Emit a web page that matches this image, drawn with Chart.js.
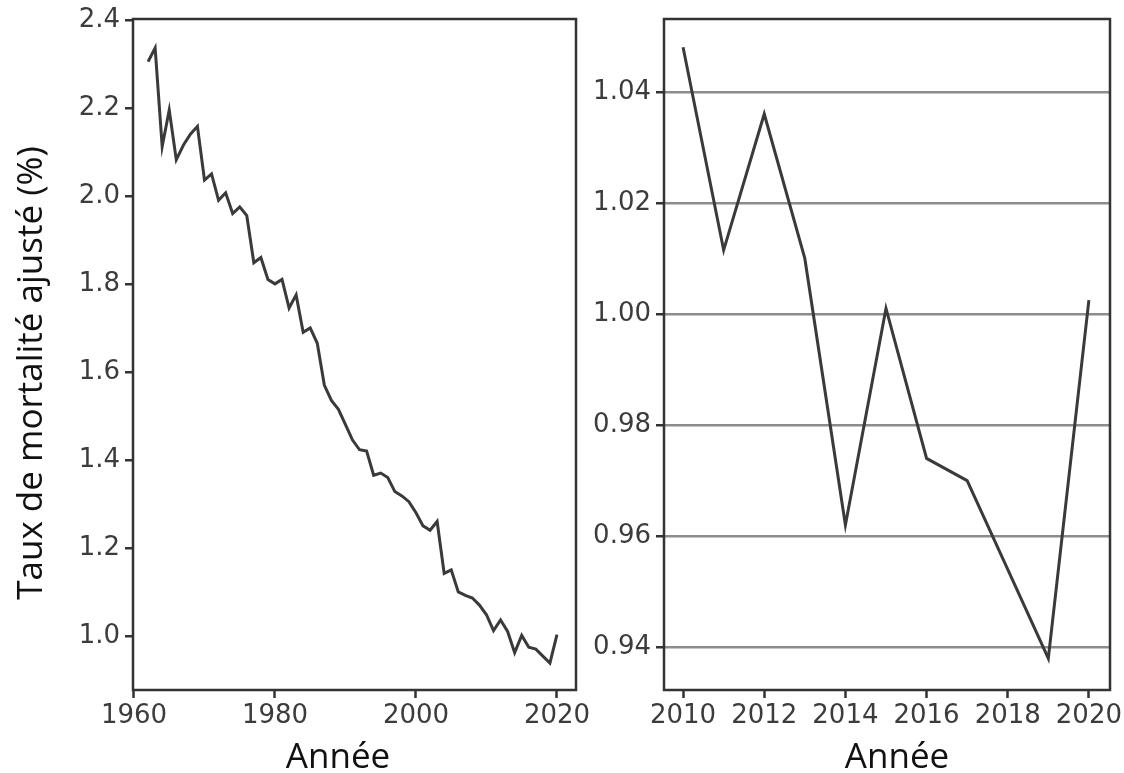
<!DOCTYPE html>
<html lang="fr">
<head>
<meta charset="utf-8">
<title>Taux de mortalité ajusté</title>
<script src="https://cdn.jsdelivr.net/npm/chart.js@4/dist/chart.umd.min.js"></script>
<style>
  html, body { margin: 0; padding: 0; background: #fff; }
  body { width: 1124px; height: 773px; position: relative; overflow: hidden; }
  .panel { position: absolute; top: 0; height: 773px; }
  #left  { left: 0;     width: 600px; }
  #right { left: 560px; width: 564px; }
</style>
</head>
<body>
<div class="panel" id="left"><canvas id="chartAll"></canvas></div>
<div class="panel" id="right"><canvas id="chartRecent"></canvas></div>

<script>
'use strict';

// ---- data ----
const yearsAll = [
  1962, 1963, 1964, 1965, 1966, 1967, 1968, 1969, 1970, 1971,
  1972, 1973, 1974, 1975, 1976, 1977, 1978, 1979, 1980, 1981,
  1982, 1983, 1984, 1985, 1986, 1987, 1988, 1989, 1990, 1991,
  1992, 1993, 1994, 1995, 1996, 1997, 1998, 1999, 2000, 2001,
  2002, 2003, 2004, 2005, 2006, 2007, 2008, 2009, 2010, 2011,
  2012, 2013, 2014, 2015, 2016, 2017, 2018, 2019, 2020
];
const rateAll = [
  2.305, 2.336, 2.112, 2.195, 2.082, 2.115, 2.140, 2.158, 2.036, 2.050,
  1.990, 2.007, 1.960, 1.975, 1.955, 1.848, 1.860, 1.810, 1.800, 1.810,
  1.745, 1.775, 1.690, 1.700, 1.665, 1.570, 1.535, 1.515, 1.480, 1.445,
  1.423, 1.420, 1.365, 1.370, 1.360, 1.328, 1.318, 1.305, 1.280, 1.250,
  1.240, 1.260, 1.142, 1.150, 1.100, 1.092, 1.086, 1.070, 1.048, 1.012,
  1.036, 1.010, 0.962, 1.001, 0.974, 0.970, 0.954, 0.938, 1.003
];

const yearsRecent = [2010, 2011, 2012, 2013, 2014, 2015, 2016, 2017, 2018, 2019, 2020];
const rateRecent  = [1.048, 1.0115, 1.036, 1.010, 0.962, 1.001, 0.974, 0.970, 0.954, 0.938, 1.0025];

const xTicksAll    = [1960, 1980, 2000, 2020];
const yTicksAll    = [1.0, 1.2, 1.4, 1.6, 1.8, 2.0, 2.2, 2.4];
const xTicksRecent = [2010, 2012, 2014, 2016, 2018, 2020];
const yTicksRecent = [0.94, 0.96, 0.98, 1.00, 1.02, 1.04];

const Y_TITLE = 'Taux de mortalité ajusté (%)';
const X_TITLE = 'Année';

// ---- shared style ----
const INK = '#333';
const tickFont = { family: 'DejaVu Sans', size: 26 };
const TITLE_FONT = '35px "Open Sans"';

// draw all four spines like matplotlib
const framePlugin = {
  id: 'frame',
  afterDatasetsDraw(chart) {
    const { ctx, chartArea: a } = chart;
    ctx.save();
    ctx.strokeStyle = INK;
    ctx.lineWidth = 2.5;
    ctx.strokeRect(a.left, a.top, a.right - a.left, a.bottom - a.top);
    ctx.restore();
  },
};

// axis titles, placed where the reference has them (not quite centred)
const titlesPlugin = {
  id: 'titles',
  afterDraw(chart, args, opts) {
    const { ctx } = chart;
    (opts.items || []).forEach((t) => {
      ctx.save();
      ctx.font = TITLE_FONT;
      ctx.fillStyle = '#111';
      ctx.textAlign = 'center';
      ctx.textBaseline = 'alphabetic';
      ctx.translate(t.x, t.y);
      if (t.rotate) ctx.rotate(-Math.PI / 2);
      ctx.fillText(t.text, 0, 0);
      ctx.restore();
    });
  },
};

const fixTicks = (list) => (scale) => {
  scale.ticks = list.map((v) => ({ value: v }));
};

function makeChart(canvasId, cfg) {
  return new Chart(document.getElementById(canvasId), {
    type: 'line',
    data: {
      datasets: [{
        data: cfg.x.map((x, i) => ({ x, y: cfg.y[i] })),
        borderColor: '#3a3a3a',
        borderWidth: 3,
        pointRadius: 0,
        tension: 0,
        fill: false,
      }],
    },
    options: {
      responsive: true,
      maintainAspectRatio: false,
      animation: false,
      events: [],
      layout: { padding: cfg.padding },
      plugins: {
        legend: { display: false },
        tooltip: { enabled: false },
        titles: { items: cfg.titles },
      },
      scales: {
        x: {
          type: 'linear',
          min: cfg.xMin,
          max: cfg.xMax,
          afterBuildTicks: fixTicks(cfg.xTicks),
          afterFit(s) { s.height = cfg.xHeight; s.paddingLeft = 0; s.paddingRight = 0; },
          border: { display: false },
          grid: {
            drawOnChartArea: false,
            drawTicks: true,
            tickLength: 8,
            tickWidth: 2.5,
            tickColor: INK,
          },
          ticks: {
            autoSkip: false,
            maxRotation: 0,
            padding: 3,
            color: '#3c3c3c',
            font: tickFont,
            callback: (v) => String(v),
          },
        },
        y: {
          type: 'linear',
          min: cfg.yMin,
          max: cfg.yMax,
          afterBuildTicks: fixTicks(cfg.yTicks),
          afterFit(s) { s.width = cfg.yWidth; s.paddingTop = 0; s.paddingBottom = 0; },
          border: { display: false },
          grid: {
            drawOnChartArea: cfg.yGrid,
            drawTicks: true,
            tickLength: 8,
            lineWidth: 2.5,
            color: '#8c8c8c',
            tickWidth: 2.5,
            tickColor: INK,
          },
          ticks: {
            autoSkip: false,
            padding: 5,
            color: '#3c3c3c',
            font: tickFont,
            callback: (v) => v.toFixed(cfg.yDigits),
          },
        },
      },
    },
    plugins: [framePlugin, titlesPlugin],
  });
}

// ---- 1962-2020 ----
makeChart('chartAll', {
  x: yearsAll, y: rateAll,
  xMin: 1959.86, xMax: 2022.7,
  yMin: 0.877, yMax: 2.402,
  xTicks: xTicksAll, yTicks: yTicksAll, yDigits: 1,
  padding: { top: 19, right: 24, left: 0, bottom: 0 },
  yWidth: 133, xHeight: 83,
  yGrid: false,
  titles: [
    { text: X_TITLE, x: 338, y: 768 },
    { text: Y_TITLE, x: 42, y: 373, rotate: true },
  ],
});

// ---- 2010-2020 ----
makeChart('chartRecent', {
  x: yearsRecent, y: rateRecent,
  xMin: 2009.53, xMax: 2020.52,
  yMin: 0.9323, yMax: 1.0531,
  xTicks: xTicksRecent, yTicks: yTicksRecent, yDigits: 2,
  padding: { top: 19, right: 14, left: 0, bottom: 0 },
  yWidth: 104, xHeight: 83,
  yGrid: true,
  titles: [
    { text: X_TITLE, x: 337, y: 768 },
  ],
});
</script>
</body>
</html>
